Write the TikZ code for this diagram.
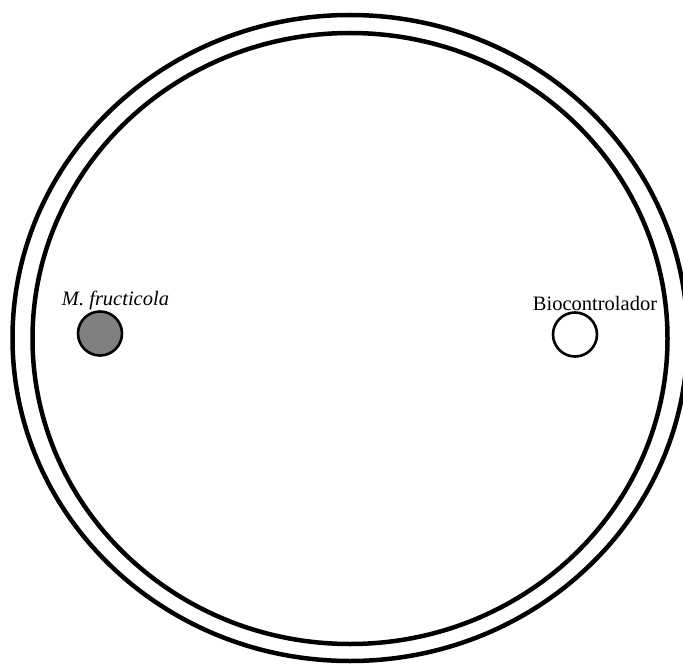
\documentclass[tikz,border=0pt]{standalone}
\usepackage{fontspec}
\setmainfont{Liberation Serif}
\usetikzlibrary{shapes.geometric, positioning}
\tikzset{
  rim/.style={draw, ellipse, line width=4.5pt, inner sep=0pt},
  colony/.style={draw, circle, line width=2.6pt, minimum size=44pt, inner sep=0pt},
  tag/.style={font=\fontsize{20.5}{23}\selectfont, inner sep=0pt, anchor=base},
}

\begin{document}
\begin{tikzpicture}[x=1pt, y=-1pt]
    \clip (0,0) rectangle (683,666);
    \fill[white] (0,0) rectangle (683,666);
    % plate
    \node[rim, minimum width=675pt, minimum height=646pt] (outer) at (350,338) {};
    \node[rim, minimum width=635pt, minimum height=611pt] (inner) at (350,338.5) {};
    % colonies
    \node[colony, fill=black!50] (fungus) at (100,333.5) {};
    \node[colony, fill=white] (bio) at (575,334.5) {};
    \node[tag, font=\fontsize{20.5}{23}\selectfont\itshape] (fungustag) at (115.5,305) {M. fructicola};
    \node[tag] (biotag) at (595,310) {Biocontrolador};
\end{tikzpicture}
\end{document}
